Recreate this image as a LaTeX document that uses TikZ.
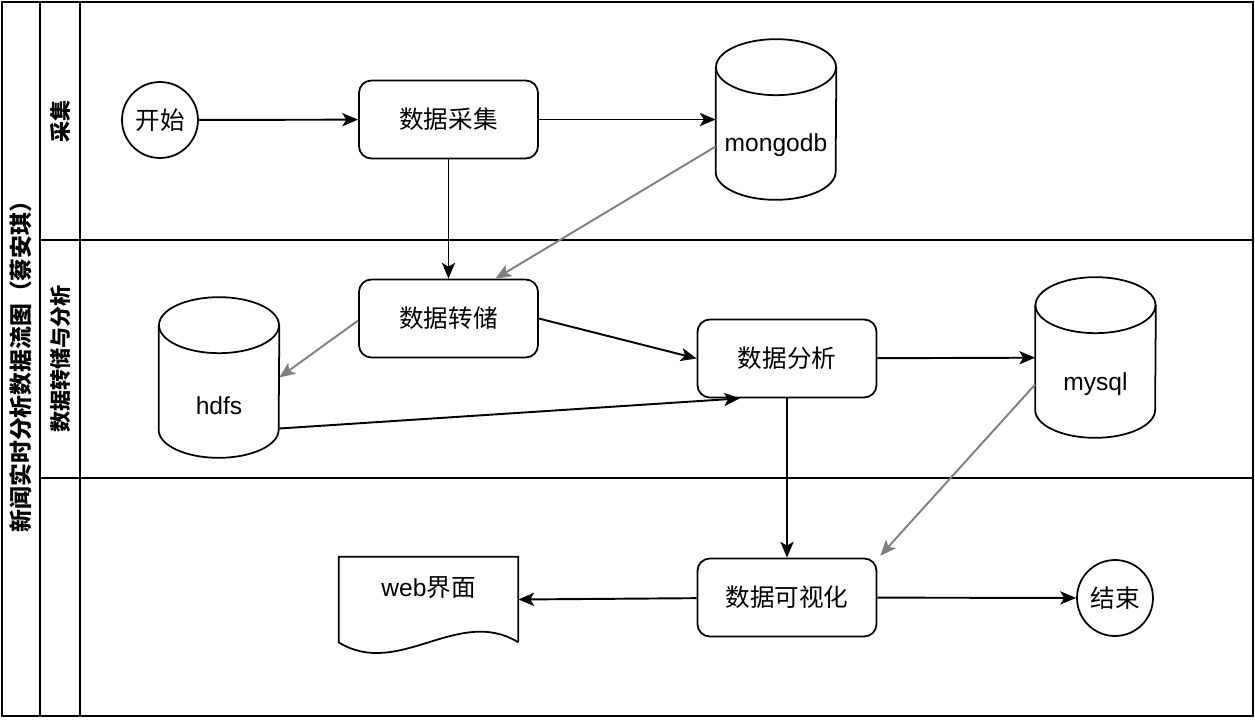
\documentclass[tikz,border=0pt]{standalone}
\usepackage{fontspec}
\setmainfont{Liberation Sans}
\newfontfamily\cjk{Noto Sans CJK SC}
\usetikzlibrary{
  calc,
  positioning,
  arrows.meta
}
\definecolor{linkgray}{RGB}{128,128,128}
\tikzset{
  proc/.style={draw,line width=1pt,rounded corners=7pt,minimum width=3.58cm,minimum height=1.56cm,font=\cjk\fontsize{14}{16}\selectfont},
  term/.style={draw,line width=1pt,circle,minimum size=1.52cm,inner sep=0pt,font=\cjk\fontsize{14}{16}\selectfont},
  db/.style={minimum width=2.4cm,minimum height=3.2cm,inner sep=0pt},
  dbtext/.style={font=\fontsize{14}{16}\selectfont},
  lane/.style={rotate=90,font=\cjk\bfseries\fontsize{12}{14}\selectfont},
  flow/.style={-{Stealth[length=9pt,width=7.5pt,inset=2.2pt]},line width=1.1pt},
  gflow/.style={flow,draw=linkgray}
}

\begin{document}
\begin{tikzpicture}[x=0.02cm,y=-0.02cm]
                  \useasboundingbox (0,0) rectangle (1255,720);
                  % pool and lanes
                  \draw[line width=1pt] (2,2) rectangle (1253,716);
                  \draw[line width=1pt] (40,2) -- (40,716);
                  \draw[line width=1pt] (80,2) -- (80,716);
                  \draw[line width=1pt] (40,240) -- (1253,240);
                  \draw[line width=1pt] (40,478) -- (1253,478);
                  \node[lane,font=\cjk\bfseries\fontsize{13}{15}\selectfont] (T) at (21, 361) {新闻实时分析数据流图（蔡安琪）};
                  \node[lane] (L1) at (60, 121) {采集};
                  \node[lane] (L2) at (60, 359) {数据转储与分析};

                  \node[term] (start) at (160, 120) {开始};
                  \node[proc] (collect) at (448.5, 119.5) {数据采集};
                  \node[db] (mongo) at (776, 119.5) {};
                  \node[proc] (store) at (448.5, 318.5) {数据转储};
                  \node[db] (hdfs) at (219, 377.5) {};
                  \node[proc] (analyse) at (787, 358.5) {数据分析};
                  \node[db] (mysql) at (1095.5, 357.5) {};
                  \node[proc] (vis) at (787, 597.5) {数据可视化};
                  \node[minimum width=3.58cm,minimum height=1.7cm,inner sep=0pt] (web) at (428.5, 599.5) {};
                  \node[term] (stop) at (1115, 598) {结束};

                  % cylinders
                  \foreach \n in {mongo,hdfs,mysql} {
                    \draw[line width=1pt] ($(\n.north west)+(0,28)$) -- ($(\n.south west)+(0,-28)$)
                      arc[start angle=180,end angle=360,x radius=1.2cm,y radius=0.56cm] -- ($(\n.north east)+(0,28)$);
                    \draw[line width=1pt] ($(\n.north)+(0,28)$) ellipse[x radius=1.2cm,y radius=0.56cm];
                  }
                  \node[dbtext] (mongoT) at ($(mongo)+(0,26)$) {mongodb};
                  \node[dbtext] (hdfsT) at ($(hdfs)+(0,28)$) {hdfs};
                  \node[dbtext] (mysqlT) at ($(mysql)+(0,27)$) {mysql};

                  % document
                  \draw[line width=1pt] (web.south east) -- (web.north east) -- (web.north west) -- (web.south west)
                    .. controls ($(web.south west)+(60,37)$) and ($(web.south east)+(-60,-37)$) .. (web.south east);
                  \node[dbtext] (webT) at ($(web)+(0,-11.5)$) {web{\cjk 界面}};

                  % flows
                  \draw[flow] (start) -- (collect);
                  \draw[flow] (collect) -- (mongo);
                  \draw[flow] (collect) -- (store);
                  \draw[gflow] ($(mongo.west)+(0,27)$) -- ($(store.north)+(47,0)$);
                  \draw[gflow] ($(store.west)+(0,2)$) -- (hdfs.east);
                  \draw[flow] (store.east) -- (analyse.west);
                  \draw[flow] ($(hdfs.east)+(0,51)$) -- ($(analyse.south)+(-47,0)$);
                  \draw[flow] (analyse) -- (mysql);
                  \draw[flow] (analyse) -- (vis);
                  \draw[gflow] ($(mysql.west)+(0,27)$) -- ($(vis.north east)+(3,-2)$);
                  \draw[flow] (vis) -- (web.east);
                  \draw[flow] (vis) -- (stop);
                \end{tikzpicture}
\end{document}
